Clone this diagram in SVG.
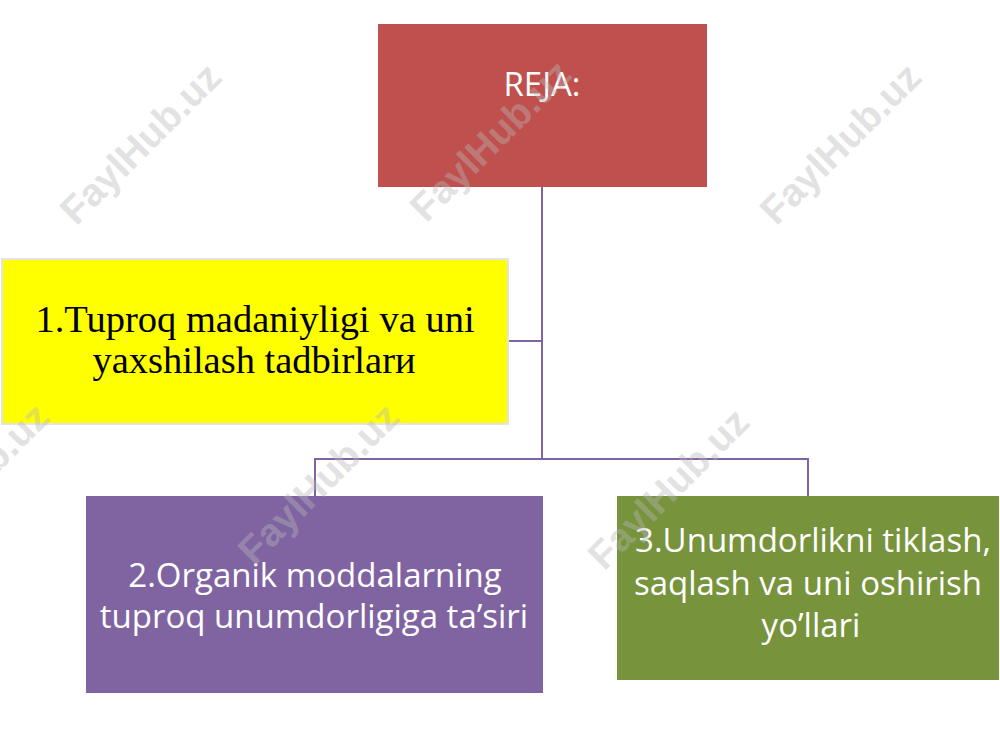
<svg xmlns="http://www.w3.org/2000/svg" width="1000" height="750" viewBox="0 0 1000 750">
<style>
.lbl{font-family:"Open Sans","Noto Sans","Liberation Sans",sans-serif;fill:#ffffff;text-anchor:middle;font-size:33px}
.ser{font-family:"Liberation Serif","Times New Roman",serif;fill:#000000;text-anchor:middle;font-size:38.5px}
.conn{stroke:#8064A2;stroke-width:2;fill:none}
.wm{font-family:"Liberation Sans","DejaVu Sans",sans-serif;font-weight:bold;font-size:39px;fill:#b8b8b8;opacity:0.4;text-anchor:middle}
</style>
<rect x="0" y="0" width="1000" height="750" fill="#ffffff"/>
<g id="connectors">
<path class="conn" d="M542,187 V459"/>
<path class="conn" d="M508,341 H542"/>
<path class="conn" d="M315,496 V459 H808 V496"/>
</g>
<g id="node-reja">
<rect x="378" y="24" width="329" height="163" fill="#C0504D"/>
<text class="lbl" x="542" y="96" font-size="34">REJA:</text>
</g>
<g id="node-1">
<rect x="2" y="259" width="506" height="165" fill="#FFFF00" stroke="#e4e4e4" stroke-width="2"/>
<text class="ser" x="255" y="332">1.Tuproq madaniyligi va uni</text>
<text class="ser" x="254" y="373">yaxshilash tadbirlarи</text>
</g>
<g id="node-2">
<rect x="86" y="496" width="457" height="197" fill="#8064A2"/>
<text class="lbl" x="315" y="587">2.Organik moddalarning</text>
<text class="lbl" x="314" y="628">tuproq unumdorligiga ta’siri</text>
</g>
<g id="node-3">
<rect x="617" y="496" width="382" height="184" fill="#77933C"/>
<text class="lbl" x="813" y="552">3.Unumdorlikni tiklash,</text>
<text class="lbl" x="808" y="595">saqlash va uni oshirish</text>
<text class="lbl" x="811" y="637">yo’llari</text>
</g>
<g id="watermarks">
<text class="wm" transform="translate(140,143) rotate(-45)" y="14">FaylHub.uz</text>
<text class="wm" transform="translate(490,140) rotate(-45)" y="14">FaylHub.uz</text>
<text class="wm" transform="translate(840,143) rotate(-45)" y="14">FaylHub.uz</text>
<text class="wm" transform="translate(-32,483) rotate(-45)" y="14">FaylHub.uz</text>
<text class="wm" transform="translate(318,483) rotate(-45)" y="14">FaylHub.uz</text>
<text class="wm" transform="translate(668,488) rotate(-45)" y="14">FaylHub.uz</text>
</g>
</svg>
